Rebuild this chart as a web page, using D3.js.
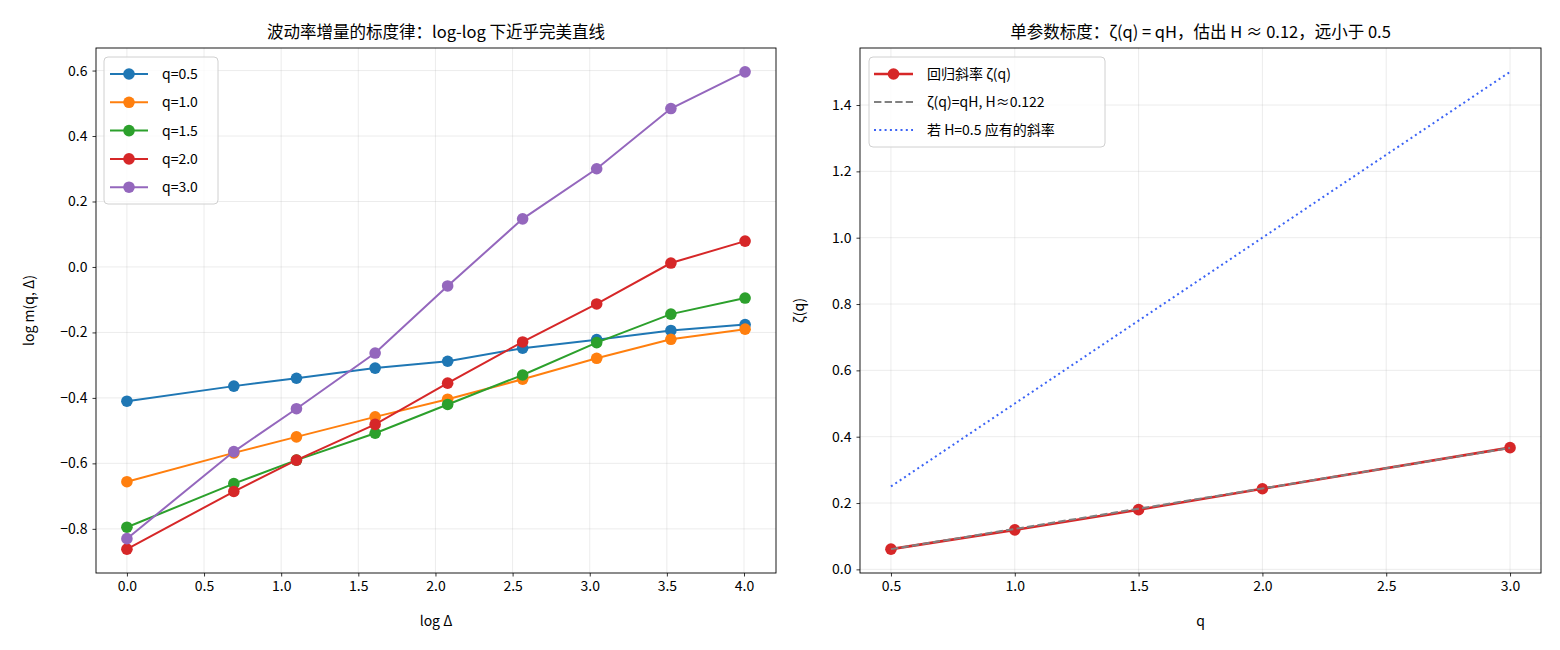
<!DOCTYPE html>
<html><head><meta charset="utf-8">
<script src="https://cdn.jsdelivr.net/npm/d3@7"></script>
<style>
body{margin:0;background:#fff;}
text{font-family:"Noto Sans CJK SC","DejaVu Sans",sans-serif;fill:#000;}
</style></head><body>
<svg id="c" width="1560" height="650"></svg>
<script>
const logDelta = [0, 0.693, 1.099, 1.609, 2.079, 2.565, 3.045, 3.526, 4.007];
const qLabels = ["q=0.5","q=1.0","q=1.5","q=2.0","q=3.0"];
const colors = ["#1f77b4","#ff7f0e","#2ca02c","#d62728","#9467bd"];
const s_q05 = [-0.410, -0.364, -0.340, -0.309, -0.288, -0.248, -0.222, -0.194, -0.176];
const s_q10 = [-0.656, -0.568, -0.519, -0.458, -0.404, -0.343, -0.279, -0.221, -0.190];
const s_q15 = [-0.795, -0.662, -0.590, -0.508, -0.420, -0.330, -0.231, -0.144, -0.095];
const s_q20 = [-0.862, -0.686, -0.590, -0.481, -0.355, -0.229, -0.113, 0.012, 0.079];
const s_q30 = [-0.830, -0.564, -0.433, -0.263, -0.058, 0.147, 0.300, 0.484, 0.596];
const series = [s_q05, s_q10, s_q15, s_q20, s_q30];
const qVals = [0.5, 1.0, 1.5, 2.0, 3.0];
const zeta = [0.061, 0.119, 0.180, 0.243, 0.367];
const H = 0.122;
const Hhalf = 0.5;
const leftTicksX = [0,0.5,1,1.5,2,2.5,3,3.5,4];
const leftTicksY = [-0.8,-0.6,-0.4,-0.2,0,0.2,0.4,0.6];
const rightTicksX = [0.5,1,1.5,2,2.5,3];
const rightTicksY = [0,0.2,0.4,0.6,0.8,1.0,1.2,1.4];

const svg = d3.select("#c");
const fmt1 = d => (d<0?"\u2212":"") + Math.abs(d).toFixed(1);

function pad(ext, f=0.05){const r=ext[1]-ext[0];return [ext[0]-r*f, ext[1]+r*f];}

function axes(box, xd, yd, xt, yt, title, xlabel, ylabel, ylabOff){
  const g = svg.append("g");
  const x = d3.scaleLinear().domain(xd).range([box.x0, box.x1]);
  const y = d3.scaleLinear().domain(yd).range([box.y1, box.y0]);
  g.append("g").selectAll("line").data(xt).join("line")
    .attr("x1",d=>x(d)).attr("x2",d=>x(d)).attr("y1",box.y0).attr("y2",box.y1)
    .attr("stroke","#b0b0b0").attr("stroke-opacity",0.3).attr("stroke-width",0.8);
  g.append("g").selectAll("line").data(yt).join("line")
    .attr("y1",d=>y(d)).attr("y2",d=>y(d)).attr("x1",box.x0).attr("x2",box.x1)
    .attr("stroke","#b0b0b0").attr("stroke-opacity",0.3).attr("stroke-width",0.8);
  const ax = g.append("g").attr("transform",`translate(0,${box.y1})`)
    .call(d3.axisBottom(x).tickValues(xt).tickFormat(fmt1).tickSize(3.5).tickPadding(5));
  const ay = g.append("g").attr("transform",`translate(${box.x0},0)`)
    .call(d3.axisLeft(y).tickValues(yt).tickFormat(fmt1).tickSize(3.5).tickPadding(5));
  [ax,ay].forEach(a=>{a.select(".domain").remove();a.selectAll("text").attr("font-size",14).attr("fill","#000").style("font-family",'"Noto Sans CJK SC","DejaVu Sans",sans-serif');a.selectAll("line").attr("stroke","#000").attr("stroke-width",0.8);});
  g.append("rect").attr("x",box.x0).attr("y",box.y0).attr("width",box.x1-box.x0).attr("height",box.y1-box.y0)
    .attr("fill","none").attr("stroke","#000").attr("stroke-width",0.9);
  svg.append("text").attr("x",(box.x0+box.x1)/2).attr("y",box.y0-10).attr("text-anchor","middle").attr("font-size",16.5).text(title);
  svg.append("text").attr("x",(box.x0+box.x1)/2).attr("y",box.y1+53).attr("text-anchor","middle").attr("font-size",14).text(xlabel);
  svg.append("text").attr("transform",`translate(${box.x0-ylabOff},${(box.y0+box.y1)/2}) rotate(-90)`).attr("text-anchor","middle").attr("font-size",14).text(ylabel);
  return {x,y,g};
}

// Left
const allY = series.flat();
const L = axes({x0:96,x1:776,y0:48,y1:573}, pad(d3.extent(logDelta)), pad(d3.extent(allY)),
  leftTicksX, leftTicksY, "波动率增量的标度律：log-log 下近乎完美直线", "log Δ", "log m(q, Δ)", 62);
const lineL = d3.line().x((d,i)=>L.x(logDelta[i])).y(d=>L.y(d));
series.forEach((s,k)=>{
  svg.append("path").attr("d",lineL(s)).attr("fill","none").attr("stroke",colors[k]).attr("stroke-width",2);
  svg.append("g").selectAll("circle").data(s).join("circle")
    .attr("cx",(d,i)=>L.x(logDelta[i])).attr("cy",d=>L.y(d)).attr("r",5.8).attr("fill",colors[k]);
});
const lg = svg.append("g");
lg.append("rect").attr("x",104).attr("y",57).attr("width",114).attr("height",147).attr("rx",4)
  .attr("fill","#fff").attr("fill-opacity",0.8).attr("stroke","#d0d0d0");
qLabels.forEach((t,k)=>{
  const yy = 74 + k*28.3;
  lg.append("line").attr("x1",110).attr("x2",148).attr("y1",yy).attr("y2",yy).attr("stroke",colors[k]).attr("stroke-width",2);
  lg.append("circle").attr("cx",129).attr("cy",yy).attr("r",5.8).attr("fill",colors[k]);
  lg.append("text").attr("x",162).attr("y",yy+5).attr("font-size",14).text(t);
});

// Right
const fitVals = qVals.map(q=>q*H);
const halfVals = qVals.map(q=>q*Hhalf);
const R = axes({x0:860,x1:1541,y0:48,y1:573}, pad(d3.extent(qVals)), pad([d3.min(zeta.concat(fitVals)), d3.max(halfVals)]),
  rightTicksX, rightTicksY, "单参数标度：ζ(q) = qH，估出 H ≈ 0.12，远小于 0.5", "q", "ζ(q)", 56);
const lineR = d3.line().x((d,i)=>R.x(qVals[i])).y(d=>R.y(d));
svg.append("path").attr("d",lineR(halfVals)).attr("fill","none").attr("stroke","#3b63f5").attr("stroke-width",2).attr("stroke-dasharray","2,3.3");
svg.append("path").attr("d",lineR(zeta)).attr("fill","none").attr("stroke","#d62728").attr("stroke-width",2.6);
svg.append("g").selectAll("circle").data(zeta).join("circle")
  .attr("cx",(d,i)=>R.x(qVals[i])).attr("cy",d=>R.y(d)).attr("r",5.8).attr("fill","#d62728");
svg.append("path").attr("d",lineR(fitVals)).attr("fill","none").attr("stroke","#808080").attr("stroke-width",2).attr("stroke-dasharray","7.4,3.2");
const rg = svg.append("g");
rg.append("rect").attr("x",869).attr("y",57).attr("width",236).attr("height",90).attr("rx",4)
  .attr("fill","#fff").attr("fill-opacity",0.8).attr("stroke","#d0d0d0");
const rItems = [
  {t:"回归斜率 ζ(q)", c:"#d62728", w:2.6, dash:null, m:true},
  {t:"ζ(q)=qH, H≈0.122", c:"#808080", w:2, dash:"7.4,3.2", m:false},
  {t:"若 H=0.5 应有的斜率", c:"#3b63f5", w:2, dash:"2,3.3", m:false}
];
rItems.forEach((it,k)=>{
  const yy = 74 + k*28;
  rg.append("line").attr("x1",874).attr("x2",913).attr("y1",yy).attr("y2",yy).attr("stroke",it.c).attr("stroke-width",it.w).attr("stroke-dasharray",it.dash);
  if(it.m) rg.append("circle").attr("cx",893.5).attr("cy",yy).attr("r",5.8).attr("fill",it.c);
  rg.append("text").attr("x",927).attr("y",yy+5).attr("font-size",14).text(it.t);
});
</script></body></html>
